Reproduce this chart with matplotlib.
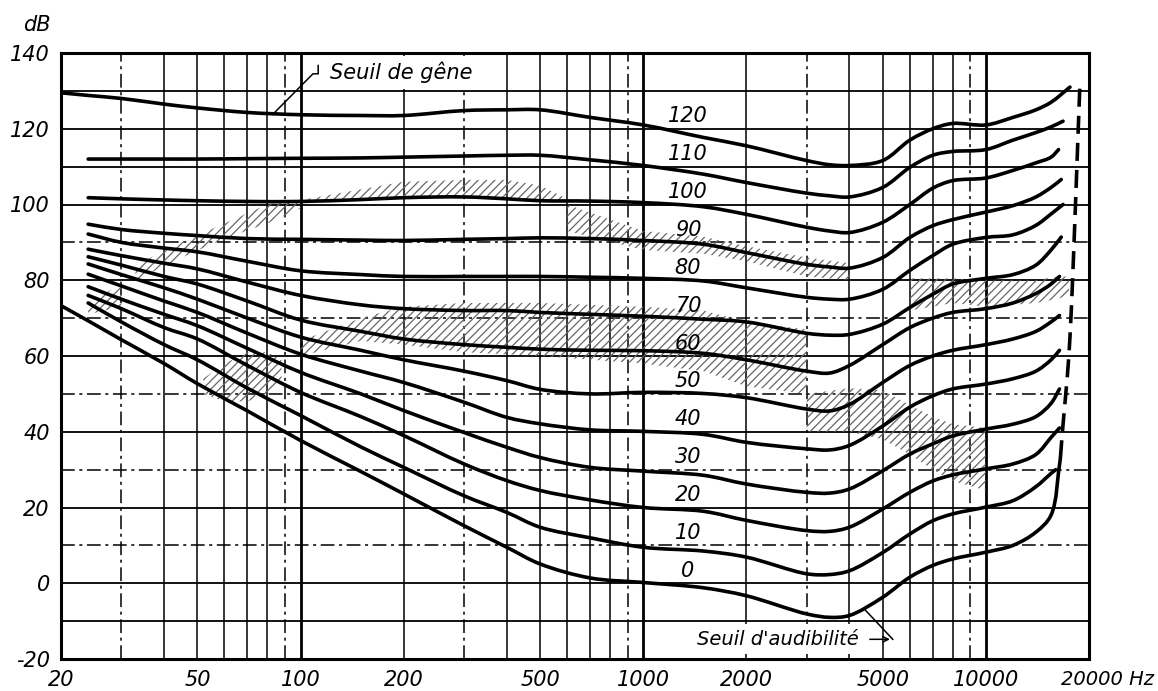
import numpy as np
import matplotlib as mpl
mpl.use('Agg')
import matplotlib.pyplot as plt
from matplotlib.path import Path
from matplotlib.patches import PathPatch

mpl.rcParams['font.family'] = 'DejaVu Sans'
mpl.rcParams['hatch.linewidth'] = 0.9
mpl.rcParams['hatch.color'] = '0.35'

# frequencies shared by all curves (Hz)
freqs = [24, 30, 40, 50, 70, 100, 150, 200, 300, 400, 500, 700, 1000, 1500,
         2000, 3000, 3500, 4000, 5000, 6000, 7000, 8000, 10000, 12000, 14000, 15500]

phons = [0, 10, 20, 30, 40, 50, 60, 70, 80, 90, 100, 110, 120]

curve_0 = [69.3, 64.3, 58.0, 52.7, 45.5, 37.7, 29.5, 23.6, 15.2, 9.5, 5.1, 1.4, 0.2, -1.2,
           -3.3, -8.1, -9.0, -8.5, -3.7, 1.6, 4.7, 6.4, 8.2, 10.0, 13.5, 18.0]
curve_10 = [74, 69, 63, 59, 51.5, 44.3, 36, 30.6, 23.1, 18.7, 14.8, 12, 9.5, 8.5,
            6.9, 2.5, 2.3, 3.3, 8.1, 13, 16.5, 18.3, 20.1, 21.8, 25.5, 29]
curve_20 = [76, 72.5, 67.5, 64.5, 57.5, 50.4, 44, 39, 31.5, 27.1, 24.5, 22, 20, 19,
            16.6, 13.9, 13.7, 14.8, 19.6, 24, 27, 28.6, 30.2, 31.5, 34, 38.5]
curve_30 = [78.3, 75, 71, 68, 62, 55.7, 50, 45.6, 39.8, 35.9, 33.2, 30.6, 29.6, 28.5,
            26.2, 24, 23.8, 24.9, 29.7, 34.1, 36.8, 38.9, 40.7, 42, 44, 47.5]
curve_40 = [81.6, 78.5, 74.5, 71.5, 66, 60.5, 56, 53, 47.8, 43.8, 42.1, 40.5, 40.1, 39.3,
            37.2, 35.5, 35.2, 36.4, 41.5, 46.5, 49.5, 51.3, 52.6, 54, 56, 59]
curve_50 = [84.3, 81.5, 78, 75, 70, 65, 61.5, 59, 56, 53.5, 51.2, 50, 50.4, 50.1,
            49, 46, 45.5, 47.2, 53, 57.5, 60, 61.5, 63, 64.5, 66.5, 69]
curve_60 = [86.2, 84, 81, 79, 74.5, 69.5, 66.5, 64.5, 63, 62.3, 61.8, 61.5, 61.4, 60.7,
            59, 56, 55.5, 57.5, 63, 67.5, 70, 71.5, 72.5, 74, 76.5, 79]
curve_70 = [88.2, 86.5, 84.5, 83, 79.5, 76, 73.5, 72.5, 72, 72, 71.5, 71, 70.5, 69.7,
            69, 66, 65.5, 65.7, 68.4, 72.8, 76.3, 79, 80.5, 81.5, 84, 88]
curve_80 = [92.2, 90, 88.5, 87.5, 85, 82.5, 81.5, 81, 81, 81, 81, 80.8, 80.5, 79.8,
            78, 75.5, 75, 75, 77.6, 82.6, 86.5, 89.5, 91.3, 92, 94.5, 97.5]
curve_90 = [94.8, 93.4, 92.4, 91.8, 91, 90.8, 90.6, 90.5, 90.8, 91, 91.2, 91, 90.5, 89.5,
            87.3, 84.2, 83.5, 83.2, 86, 91.3, 94.4, 96, 98, 99.7, 102, 104.5]
curve_100 = [101.8, 101.5, 101.2, 101, 100.8, 100.8, 101.3, 101.8, 102, 101.5, 101, 100.9, 100.5, 99.4,
             97.4, 94, 93, 92.6, 95.3, 100, 104.3, 106.3, 107, 109, 111, 112.5]
curve_110 = [112, 112, 112, 112, 112.1, 112.2, 112.3, 112.5, 112.8, 113, 113, 111.8, 110.3, 108,
             105.8, 103, 102.3, 102, 104.5, 109.8, 113, 114, 114.5, 117, 119, 120.5]
curve_120 = [128.8, 128, 126.5, 125.5, 124.3, 123.7, 123.5, 123.5, 124.8, 125, 125, 123, 121, 117.7,
             115.5, 111.6, 110.5, 110.3, 111.6, 117, 120, 121.4, 121, 123, 125, 127]

curves = [curve_0, curve_10, curve_20, curve_30, curve_40, curve_50, curve_60,
          curve_70, curve_80, curve_90, curve_100, curve_110, curve_120]

# 0 and 120 curves start at 20 Hz
start_db = {0: 73.3, 120: 129.5}
# last point of each curve
end_freq = [16500, 16000, 16400, 16400, 16400, 16400, 16400, 16600, 16800, 16600, 16300, 16800, 17600]
end_db = [33, 30, 41, 51.3, 61.5, 70.7, 81, 91.4, 100, 106.6, 114.5, 122, 131]

# dashed upper limit line
dash_f = [16500, 16800, 17300, 17600, 18000, 18400, 18800]
dash_db = [33, 42, 55, 65, 85, 108, 131]

# shaded (hatched) zones: freq, low, high
zones = [
    ([105, 150, 200, 300, 400, 500, 600], [100.8, 101.3, 101.8, 102, 101.5, 101, 100.9],
     [101.5, 104, 106, 106.5, 106.5, 105, 101.5]),
    ([33, 45, 60, 80, 100], [80, 86, 91, 95, 99], [84, 90, 95, 100, 101.5]),
    ([24, 30], [71, 73], [74, 79]),
    ([600, 1000, 1500, 2000, 3000, 4000], [93, 88, 87, 85, 81, 80], [100, 93, 91.5, 89, 86, 84.5]),
    ([100, 150, 200, 300, 500, 1000, 1500, 2000, 3000], [60, 64, 63, 61, 60, 58, 56, 52, 50],
     [64, 70, 73, 74, 74, 73, 72, 69, 67]),
    ([3000, 4000, 5000, 6000, 7000, 8000, 10000], [40, 40, 38, 34, 30, 27, 24.5],
     [50, 51.5, 51, 47, 44, 42, 41]),
    ([6000, 8000, 10000, 12000, 14000, 16000, 17500], [72, 74, 73, 73.5, 74, 75, 76],
     [80.5, 80.5, 80, 80, 80, 81, 81]),
    ([52, 60, 70, 80, 88], [50, 48, 48, 50, 53], [54, 58, 61, 61, 59]),
]

x_ticks = [20, 50, 100, 200, 500, 1000, 2000, 5000, 10000]
y_ticks = [-20, 0, 20, 40, 60, 80, 100, 120, 140]


def smooth_path(f, db):
    # centripetal Catmull-Rom through the points, drawn as cubic Bezier
    # (computed in log-frequency space so it follows the log axis)
    p = np.column_stack([np.log10(f) * 343.0, np.asarray(db, float) * 3.79])
    p = np.vstack([2 * p[0] - p[1], p, 2 * p[-1] - p[-2]])
    verts = [p[1]]
    codes = [Path.MOVETO]
    for i in range(1, len(p) - 2):
        p0, p1, p2, p3 = p[i - 1], p[i], p[i + 1], p[i + 2]
        d1 = max(np.linalg.norm(p1 - p0) ** 0.5, 1e-6)
        d2 = max(np.linalg.norm(p2 - p1) ** 0.5, 1e-6)
        d3 = max(np.linalg.norm(p3 - p2) ** 0.5, 1e-6)
        b1 = (d1**2 * p2 - d2**2 * p0 + (2 * d1**2 + 3 * d1 * d2 + d2**2) * p1) / (3 * d1 * (d1 + d2))
        b2 = (d3**2 * p1 - d2**2 * p3 + (2 * d3**2 + 3 * d3 * d2 + d2**2) * p2) / (3 * d3 * (d3 + d2))
        verts += [b1, b2, p2]
        codes += [Path.CURVE4] * 3
    verts = np.array(verts)
    verts = np.column_stack([10 ** (verts[:, 0] / 343.0), verts[:, 1] / 3.79])
    return Path(verts, codes)


fig = plt.figure(figsize=(11.58, 6.91), dpi=100)
ax = fig.add_axes([61/1158, 32/691, 1028/1158, 606/691])
ax.set_xscale('log')
ax.set_xlim(20, 20000)
ax.set_ylim(-20, 140)

# grid
for dec in [10, 100, 1000, 10000]:
    for m in range(1, 10):
        f = dec * m
        if f <= 20 or f >= 20000:
            continue
        if m == 1:
            ax.axvline(f, color='k', lw=2.0, zorder=1)
        elif m in (3, 9):
            ax.axvline(f, color='k', lw=1.1, ls=(0, (9, 3, 2, 3)), zorder=1)
        else:
            ax.axvline(f, color='k', lw=1.1, zorder=1)
for db in range(-10, 140, 10):
    if db in (90, 70, 50, 30, 10):
        ax.axhline(db, color='k', lw=1.1, ls=(0, (9, 3, 2, 3)), zorder=1)
    else:
        ax.axhline(db, color='k', lw=1.3, zorder=1)

# hatched zones
for zf, zlo, zhi in zones:
    ax.fill_between(zf, zlo, zhi, facecolor='none', edgecolor='0.4', hatch='////', lw=0, zorder=2)

# curves
for i, p in enumerate(phons):
    xf = list(freqs)
    yd = list(curves[i])
    if p in start_db:
        xf = [20] + xf
        yd = [start_db[p]] + yd
    xf.append(end_freq[i])
    yd.append(end_db[i])
    ax.add_patch(PathPatch(smooth_path(xf, yd), facecolor='none', edgecolor='k', lw=2.6,
                           capstyle='round', joinstyle='round', zorder=3))
    ax.text(1350, p + 3.3, str(p), fontsize=15, style='italic', ha='center', va='center', zorder=4)

ax.add_patch(PathPatch(smooth_path(dash_f, dash_db), facecolor='none', edgecolor='k', lw=2.6,
                       ls=(0, (5, 2.5)), zorder=3))

# annotations
white_box = dict(facecolor='white', edgecolor='none', pad=4)
ax.plot([83, 108.7, 112.6, 112.6], [123.8, 134.5, 134.5, 136.7], color='k', lw=1.1, zorder=4)
ax.text(122, 134.8, 'Seuil de gêne', fontsize=15, style='italic', ha='left', va='center',
        bbox=white_box, zorder=4)
ax.text(4250, -14.8, "Seuil d'audibilité", fontsize=14, style='italic', ha='right', va='center',
        bbox=white_box, zorder=4)
ax.annotate('', xy=(5350, -14.8), xytext=(4500, -14.8),
            arrowprops=dict(arrowstyle='->', color='k', lw=1.1), zorder=4)
ax.plot([4450, 5350], [-7.1, -14.8], color='k', lw=1.1, zorder=4)

for s in ax.spines.values():
    s.set_linewidth(2.2)
    s.set_zorder(5)

ax.set_xticks(x_ticks)
ax.set_xticklabels([str(t) for t in x_ticks])
ax.xaxis.set_minor_locator(mpl.ticker.NullLocator())
ax.set_yticks(y_ticks)
ax.set_yticklabels([str(t) for t in y_ticks])
ax.tick_params(length=0, labelsize=15, pad=8)
for lab in ax.get_xticklabels() + ax.get_yticklabels():
    lab.set_fontstyle('italic')
ax.text(31000, -25.5, '20000 Hz', fontsize=14, style='italic', ha='right', va='center', clip_on=False)
fig.text(37/1158, 1 - 25/691, 'dB', fontsize=15, style='italic', ha='center', va='center')

fig.savefig('out.png', dpi=100, facecolor='white')
